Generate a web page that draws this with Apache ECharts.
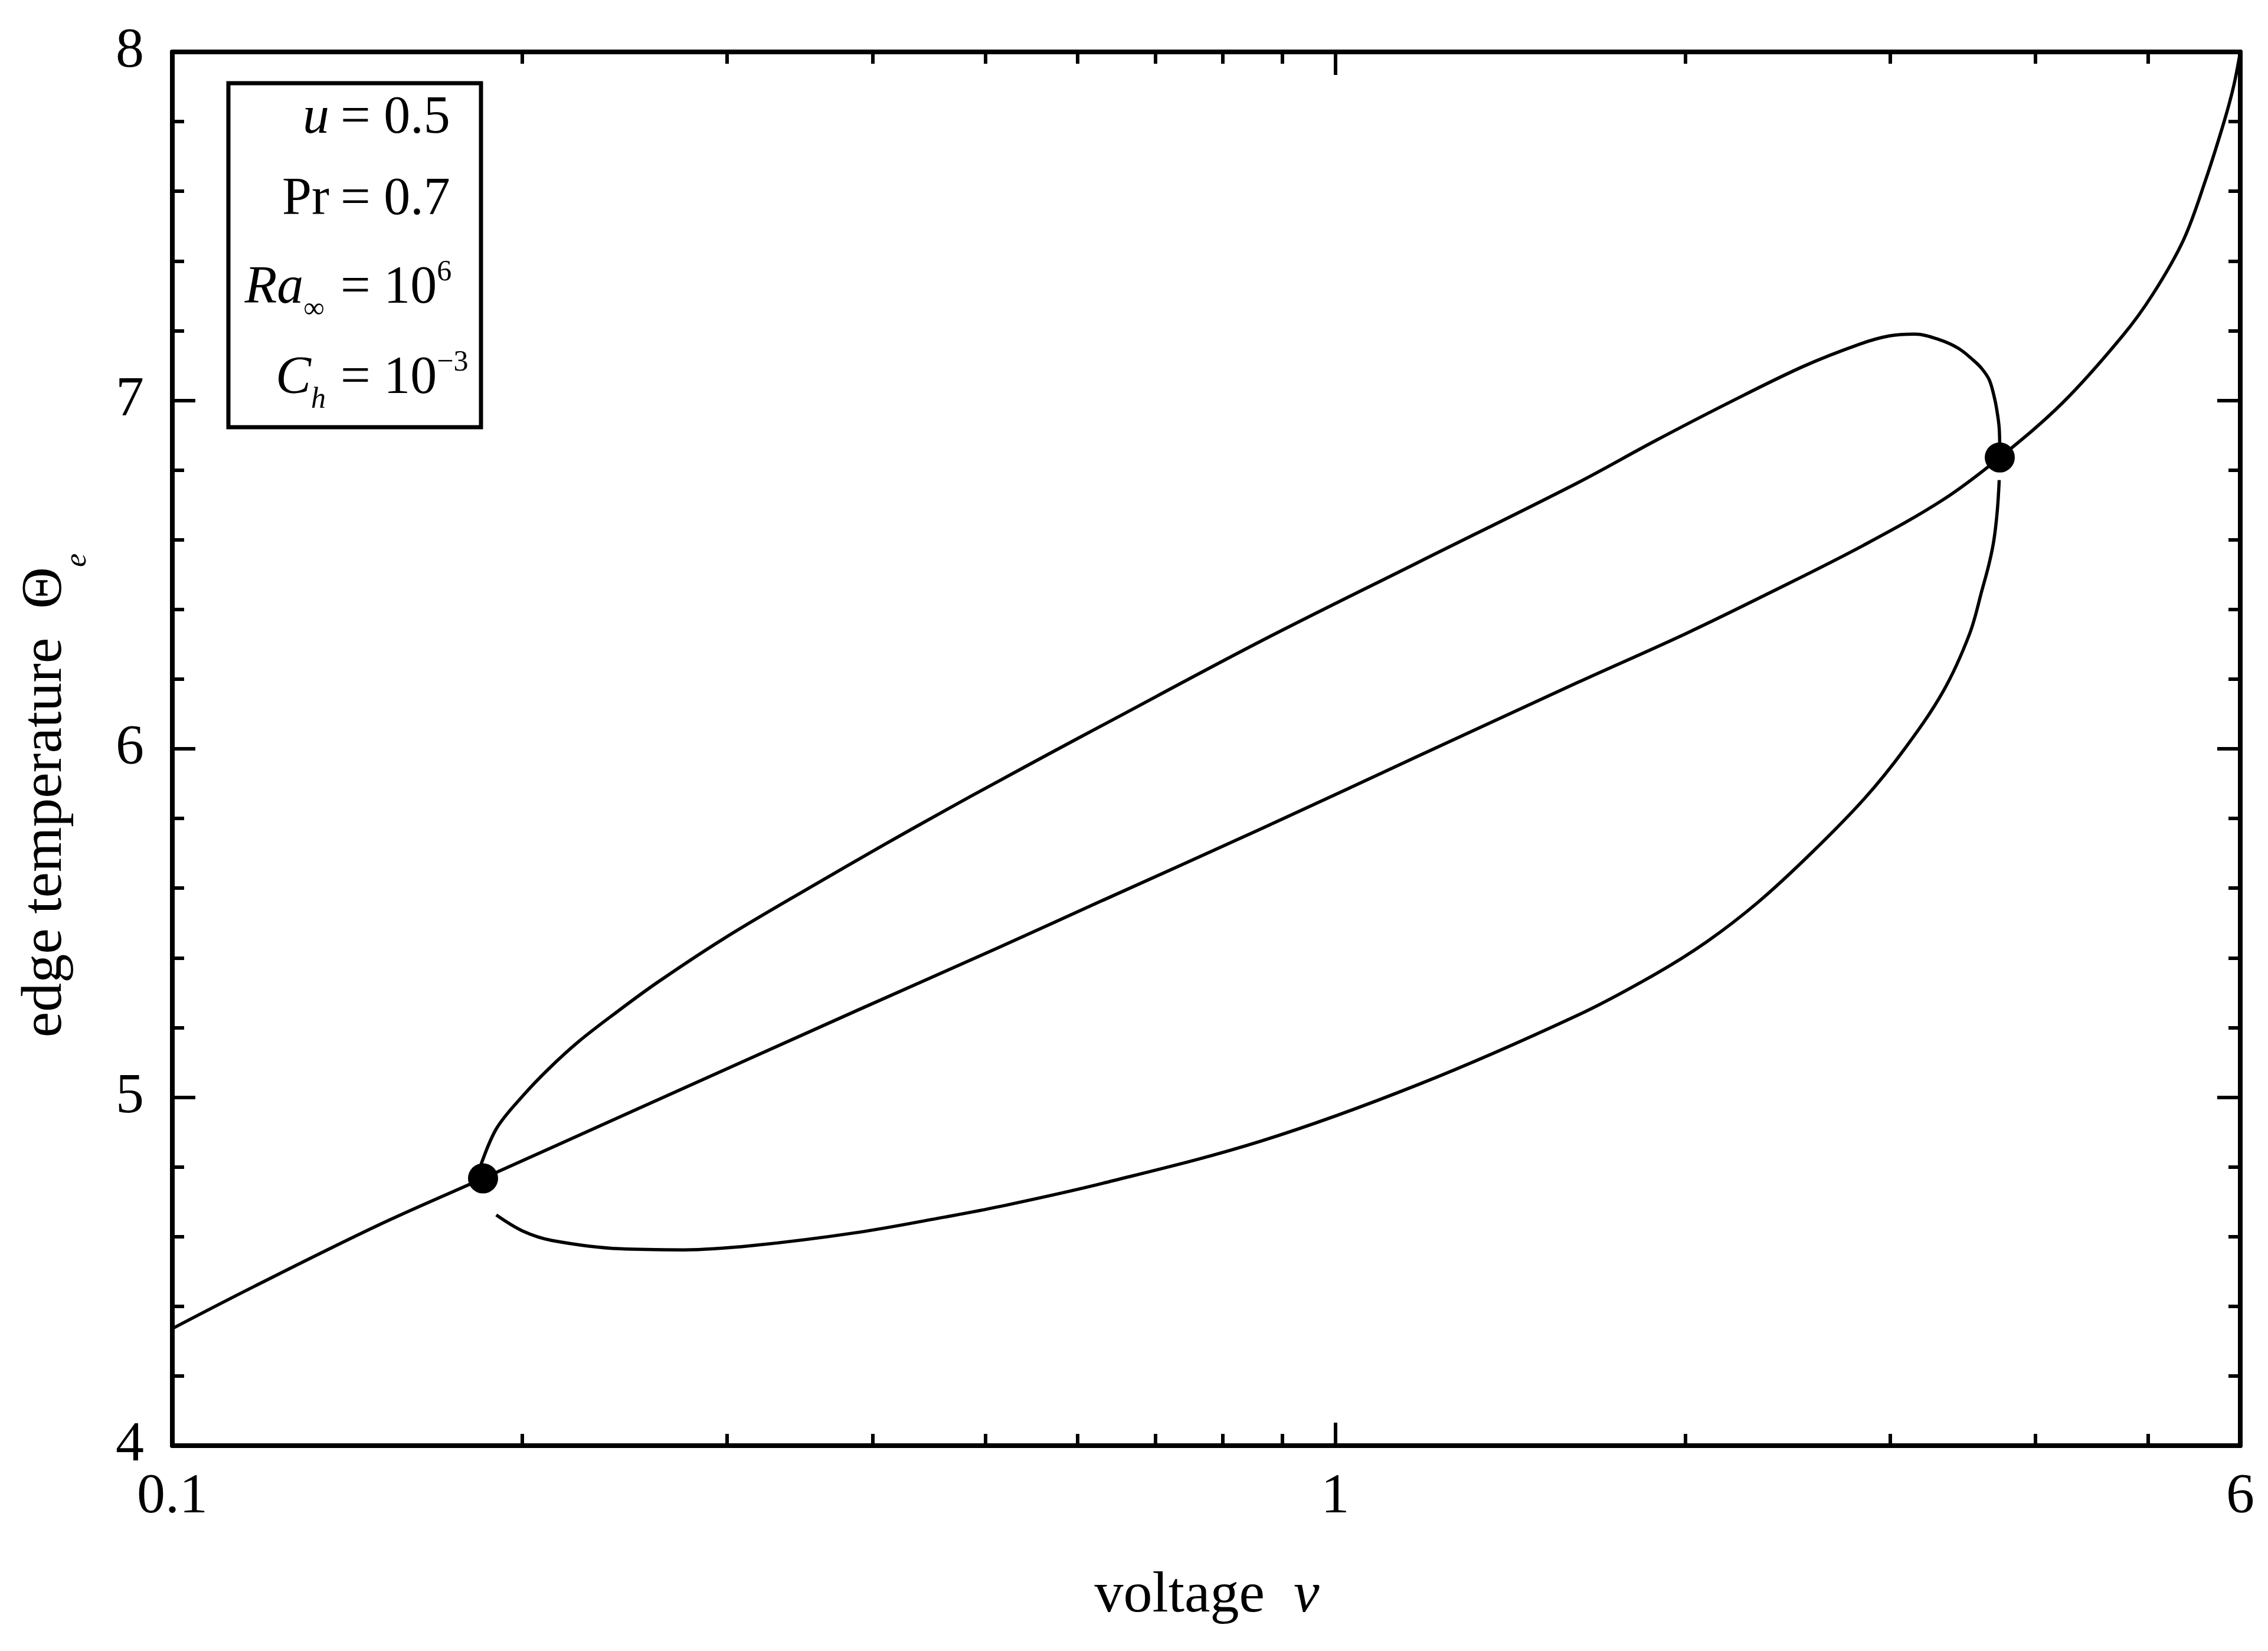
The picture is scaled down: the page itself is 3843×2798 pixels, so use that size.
<!DOCTYPE html>
<html>
<head>
<meta charset="utf-8">
<script src="https://cdn.jsdelivr.net/npm/echarts@6/dist/echarts.min.js"></script>
<style>
html,body{margin:0;padding:0;background:#ffffff;}
#chart{width:3843px;height:2798px;}
</style>
</head>
<body>
<div id="chart"></div>
<script>
// ---------------- data ----------------
const xTickValues = [0.1, 1, 6];
const xTickLabels = ['0.1', '1', '6'];
const xMinorTickValues = [0.2, 0.3, 0.4, 0.5, 0.6, 0.7, 0.8, 0.9, 2, 3, 4, 5];
const yTickValues = [4, 5, 6, 7, 8];

// main (monotone) branch
const voltageMain = [0.1, 0.1176, 0.1502, 0.185, 0.2506, 0.3885, 0.5139, 0.631, 0.8631, 1.18, 1.615, 2.0, 2.371, 2.849, 3.332, 3.727, 4.224, 4.75, 5.047, 5.363, 5.6, 5.811, 5.922, 6.0];
const thetaMain   = [4.336, 4.457, 4.632, 4.767, 4.965, 5.25, 5.43, 5.565, 5.77, 5.98, 6.19, 6.33, 6.45, 6.585, 6.715, 6.836, 6.994, 7.184, 7.305, 7.461, 7.631, 7.8, 7.902, 8.0];

// upper branch of the loop (left point -> right point)
const voltageUpper = [0.1835, 0.1899, 0.2003, 0.2106, 0.2234, 0.2403, 0.2614, 0.2979, 0.353, 0.409, 0.4601, 0.514, 0.5677, 0.631, 0.8631, 1.18, 1.615, 1.877, 2.179, 2.528, 2.828, 2.995, 3.150, 3.301, 3.435, 3.540, 3.599, 3.650, 3.684, 3.706, 3.723, 3.727];
const thetaUpper   = [4.79, 4.909, 5.005, 5.081, 5.159, 5.241, 5.33, 5.455, 5.601, 5.724, 5.82, 5.908, 5.986, 6.068, 6.309, 6.536, 6.763, 6.881, 6.993, 7.098, 7.162, 7.185, 7.19, 7.175, 7.149, 7.114, 7.09, 7.059, 7.014, 6.971, 6.919, 6.85];

// lower branch of the loop (right point -> left end)
const voltageLower = [3.723, 3.709, 3.684, 3.649, 3.6, 3.511, 3.332, 3.081, 2.849, 2.567, 2.312, 2.084, 1.877, 1.615, 1.18, 0.8631, 0.631, 0.514, 0.4615, 0.3885, 0.315, 0.2753, 0.2428, 0.212, 0.2001, 0.1899];
const thetaLower   = [6.771, 6.684, 6.599, 6.531, 6.458, 6.33, 6.165, 5.996, 5.856, 5.701, 5.561, 5.445, 5.35, 5.235, 5.037, 4.874, 4.753, 4.686, 4.656, 4.612, 4.574, 4.562, 4.565, 4.589, 4.616, 4.662];

// marked points
const voltageDots = [0.185, 3.727];
const thetaDots   = [4.767, 6.836];

// ---------------- chart ----------------
const FONT = 'Liberation Serif';
const L = Math.log10;
const xMinL = L(xTickValues[0]);
const xMaxL = L(xTickValues[xTickValues.length - 1]);
const BLACK = '#000000';

function pairs(xs, ys) { return xs.map((x, i) => [x, ys[i]]); }
function xLabel(v) {
  const i = xTickValues.findIndex(t => Math.abs(L(t) - v) < 1e-9);
  return i >= 0 ? xTickLabels[i] : '';
}

const tickStyle = { color: BLACK, width: 6 };
const axisLineStyle = { color: BLACK, width: 8 };

function tickXAxis(position, values, length, withLabels, withLine) {
  return {
    type: 'value', gridIndex: 0, position: position,
    min: xMinL, max: xMaxL,
    axisLine: { show: !!withLine, onZero: false, lineStyle: axisLineStyle },
    axisTick: { show: true, inside: true, length: length, customValues: values.map(L), lineStyle: tickStyle },
    axisLabel: withLabels ? {
      show: true, customValues: xTickValues.map(L), formatter: xLabel,
      margin: 40, color: BLACK, fontFamily: FONT, fontSize: 96
    } : { show: false },
    splitLine: { show: false }, minorTick: { show: false }, minorSplitLine: { show: false }
  };
}

function yAx(position, withLabels) {
  return {
    type: 'value', gridIndex: 0, position: position,
    min: yTickValues[0], max: yTickValues[yTickValues.length - 1], interval: 1,
    axisLine: { show: true, onZero: false, lineStyle: axisLineStyle },
    axisTick: { show: true, inside: true, length: 39, lineStyle: tickStyle },
    minorTick: { show: true, splitNumber: 5, length: 20, lineStyle: tickStyle },
    axisLabel: withLabels ? { show: true, margin: 48, color: BLACK, fontFamily: FONT, fontSize: 96 } : { show: false },
    splitLine: { show: false }, minorSplitLine: { show: false }
  };
}

function curve(name, xs, ys) {
  return {
    type: 'line', name: name, xAxisIndex: 0, yAxisIndex: 0,
    data: pairs(xs, ys), symbol: 'none', showSymbol: false, smooth: 0.35,
    lineStyle: { color: BLACK, width: 5.5, opacity: 1 }, silent: true, z: 3
  };
}

const rich90 = {
  r:   { fontFamily: FONT, fontSize: 90, lineHeight: 90 },
  i:   { fontFamily: FONT, fontSize: 90, lineHeight: 90, fontStyle: 'italic' },
  sub: { fontFamily: FONT, fontSize: 50, lineHeight: 90, padding: [70, 0, 0, 0] },
  isub:{ fontFamily: FONT, fontSize: 50, lineHeight: 90, fontStyle: 'italic', padding: [71, 0, 0, 0] },
  sup: { fontFamily: FONT, fontSize: 50, lineHeight: 90, padding: [0, 0, 56, 0] }
};

function legendText(x, y, text, align) {
  return {
    type: 'text', x: x, y: y, z: 101,
    style: { text: text, rich: rich90, fill: BLACK, fontFamily: FONT, fontSize: 90, align: align, verticalAlign: 'middle' }
  };
}

const legendBaselines = [232, 370, 520, 673];
const mid = b => b - 30.4;

const option = {
  backgroundColor: '#ffffff',
  animation: false,
  grid: { left: 292, right: 47, top: 88, bottom: 348, containLabel: false, outerBoundsMode: 'none' },
  xAxis: [
    {
      type: 'log', logBase: 10, gridIndex: 0, position: 'bottom',
      min: xTickValues[0], max: xTickValues[xTickValues.length - 1],
      axisLine: { show: true, onZero: false, lineStyle: axisLineStyle },
      axisTick: { show: false }, axisLabel: { show: false },
      splitLine: { show: false }, minorTick: { show: false }, minorSplitLine: { show: false }
    },
    tickXAxis('bottom', xTickValues, 39, true, false),
    tickXAxis('bottom', xMinorTickValues, 20, false, false),
    tickXAxis('top', xTickValues, 39, false, true),
    tickXAxis('top', xMinorTickValues, 20, false, false)
  ],
  yAxis: [ yAx('left', true), yAx('right', false) ],
  series: [
    curve('main', voltageMain, thetaMain),
    curve('upper', voltageUpper, thetaUpper),
    curve('lower', voltageLower, thetaLower),
    {
      type: 'scatter', name: 'points', xAxisIndex: 0, yAxisIndex: 0,
      data: pairs(voltageDots, thetaDots), symbol: 'circle', symbolSize: 51,
      itemStyle: { color: BLACK, opacity: 1 }, silent: true, z: 5
    }
  ],
  graphic: [
    // axis titles
    {
      type: 'text', x: 2045, y: 2705, z: 50,
      style: {
        text: '{t|voltage  }{i|v}', align: 'center', verticalAlign: 'middle', fill: BLACK,
        fontFamily: FONT, fontSize: 98,
        rich: {
          t: { fontFamily: FONT, fontSize: 98, lineHeight: 98 },
          i: { fontFamily: FONT, fontSize: 98, lineHeight: 98, fontStyle: 'italic' }
        }
      }
    },
    {
      type: 'text', x: 77, y: 1348, rotation: Math.PI / 2, z: 50,
      style: {
        text: '{t|edge temperature  Θ}{s|e}', align: 'center', verticalAlign: 'middle', fill: BLACK,
        fontFamily: FONT, fontSize: 98,
        rich: {
          t: { fontFamily: FONT, fontSize: 98, lineHeight: 98 },
          s: { fontFamily: FONT, fontSize: 52, lineHeight: 98, fontStyle: 'italic', padding: [108, 0, 0, 0] }
        }
      }
    },
    // parameter box
    {
      type: 'rect', z: 100,
      shape: { x: 387, y: 141, width: 428, height: 583 },
      style: { fill: '#ffffff', stroke: BLACK, lineWidth: 7 }
    },
    legendText(558, mid(legendBaselines[0]), '{i|u}', 'right'),
    legendText(577, mid(legendBaselines[0]), '{r|= 0.5}', 'left'),
    legendText(558, mid(legendBaselines[1]), '{r|Pr}', 'right'),
    legendText(577, mid(legendBaselines[1]), '{r|= 0.7}', 'left'),
    legendText(550, mid(legendBaselines[2]), '{i|Ra}{sub|∞}', 'right'),
    legendText(577, mid(legendBaselines[2]), '{r|= 10}{sup|6}', 'left'),
    legendText(552, mid(legendBaselines[3]), '{i|C}{isub|h}', 'right'),
    legendText(577, mid(legendBaselines[3]), '{r|= 10}{sup|−3}', 'left')
  ]
};

const chart = echarts.init(document.getElementById('chart'), null, { renderer: 'canvas', width: 3843, height: 2798 });
chart.setOption(option);
</script>
</body>
</html>
